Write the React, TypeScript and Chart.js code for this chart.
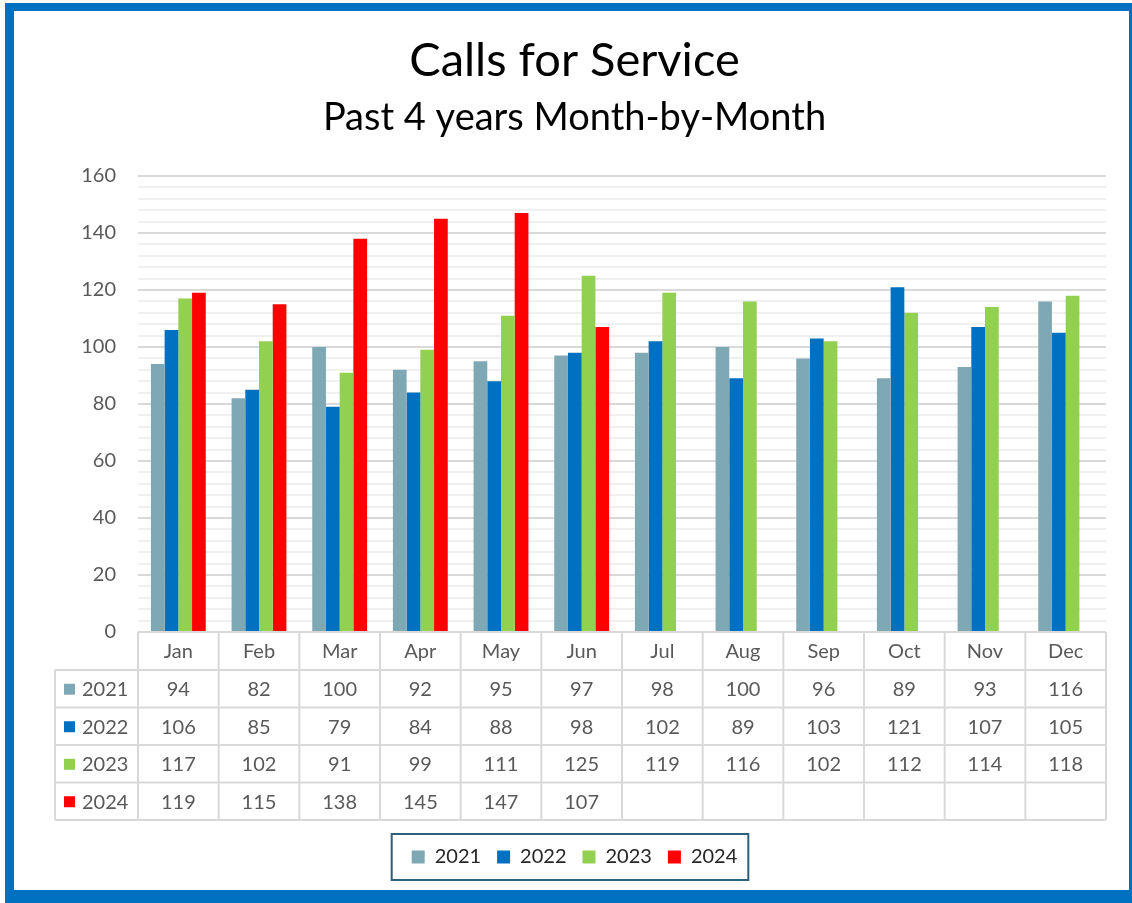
import React, { useEffect, useRef } from 'react';
import { Chart, registerables } from 'chart.js';

Chart.register(...registerables);

const months = ['Jan', 'Feb', 'Mar', 'Apr', 'May', 'Jun', 'Jul', 'Aug', 'Sep', 'Oct', 'Nov', 'Dec'];
const years = ['2021', '2022', '2023', '2024'];
const calls2021 = [94, 82, 100, 92, 95, 97, 98, 100, 96, 89, 93, 116];
const calls2022 = [106, 85, 79, 84, 88, 98, 102, 89, 103, 121, 107, 105];
const calls2023 = [117, 102, 91, 99, 111, 125, 119, 116, 102, 112, 114, 118];
const calls2024 = [119, 115, 138, 145, 147, 107, null, null, null, null, null, null];
const seriesColors = ['#7FA8B5', '#0070C0', '#92D050', '#FF0000'];
const yMin = 0;
const yMax = 160;
const yMinorStep = 4;
const yMajorStep = 20;

const allSeries = [calls2021, calls2022, calls2023, calls2024];

const FONT = 'Lato, "Open Sans", sans-serif';
const TEXT_GRAY = '#595959';
const TABLE_LINE = '#D9D9D9';

const framePlugin = {
  id: 'frame',
  beforeDraw(chart: any) {
    const { ctx, width, height } = chart;
    ctx.save();
    ctx.fillStyle = '#FFFFFF';
    ctx.fillRect(0, 0, width, height);
    ctx.fillStyle = '#0070C0';
    ctx.fillRect(5, 3, 9, height - 3);
    ctx.fillRect(5, 3, width - 5, 8);
    ctx.fillRect(1129, 3, width - 1129, height - 3);
    ctx.fillRect(5, 890, width - 5, height - 890);
    ctx.restore();
  },
};

const tablePlugin = {
  id: 'dataTable',
  afterDraw(chart: any) {
    const { ctx, chartArea, scales } = chart;
    const xs = scales.x;
    const n = months.length;
    const colW = (chartArea.right - chartArea.left) / n;
    const top = chartArea.bottom;
    const headerH = 38;
    const rowH = 37.5;
    const labelLeft = 55;
    const bottom = top + headerH + rowH * years.length;

    ctx.save();
    ctx.strokeStyle = TABLE_LINE;
    ctx.lineWidth = 2;
    const line = (x1: number, y1: number, x2: number, y2: number) => {
      ctx.beginPath();
      ctx.moveTo(x1, y1);
      ctx.lineTo(x2, y2);
      ctx.stroke();
    };
    for (let i = 0; i < n; i++) {
      const cx = xs.getPixelForValue(i);
      line(cx - colW / 2, top, cx - colW / 2, bottom);
    }
    line(chartArea.right, top, chartArea.right, bottom);
    line(labelLeft, top + headerH, labelLeft, bottom);
    line(chartArea.left, top, chartArea.right, top);
    for (let r = 0; r <= years.length; r++) {
      const y = top + headerH + r * rowH;
      line(labelLeft, y, chartArea.right, y);
    }

    ctx.font = `20px ${FONT}`;
    ctx.fillStyle = TEXT_GRAY;
    ctx.textBaseline = 'middle';
    allSeries.forEach((vals, r) => {
      const cy = top + headerH + r * rowH + rowH / 2;
      ctx.textAlign = 'center';
      ctx.fillStyle = TEXT_GRAY;
      vals.forEach((v, i) => {
        if (v !== null && v !== undefined) ctx.fillText(String(v), xs.getPixelForValue(i), cy + 1);
      });
      ctx.fillStyle = seriesColors[r];
      ctx.fillRect(64, cy - 5, 11, 11);
      ctx.fillStyle = TEXT_GRAY;
      ctx.textAlign = 'left';
      ctx.fillText(years[r], 82, cy + 1);
    });
    ctx.restore();
  },
};

const legendBoxPlugin = {
  id: 'legendBox',
  afterDraw(chart: any) {
    const lg = chart.legend;
    if (!lg || !lg.legendHitBoxes || !lg.legendHitBoxes.length) return;
    const hb = lg.legendHitBoxes;
    const left = Math.min(...hb.map((h: any) => h.left)) - 20;
    const right = Math.max(...hb.map((h: any) => h.left + h.width)) + 11;
    const cy = hb[0].top + hb[0].height / 2;
    const { ctx } = chart;
    ctx.save();
    ctx.strokeStyle = '#2F6079';
    ctx.lineWidth = 2;
    ctx.strokeRect(left, cy - 23, right - left, 46);
    ctx.restore();
  },
};

export default function App() {
  const canvasRef = useRef<HTMLCanvasElement | null>(null);

  useEffect(() => {
    if (!canvasRef.current) return;
    Chart.defaults.font.family = FONT;
    const chart = new Chart(canvasRef.current, {
      type: 'bar',
      data: {
        labels: months,
        datasets: years.map((y, i) => ({
          label: y,
          data: allSeries[i],
          backgroundColor: seriesColors[i],
          borderWidth: 0,
          barPercentage: 1,
          categoryPercentage: 0.68,
        })),
      },
      options: {
        responsive: false,
        animation: false,
        layout: { padding: { top: 0, left: 43, right: 26, bottom: 26 } },
        plugins: {
          title: {
            display: true,
            text: 'Calls for Service',
            color: '#000000',
            font: { size: 47, weight: 'normal', family: FONT, lineHeight: 1.2 },
            padding: { top: 33, bottom: 0 },
          },
          subtitle: {
            display: true,
            text: 'Past 4 years Month-by-Month',
            color: '#000000',
            font: { size: 38, weight: 'normal', family: FONT, lineHeight: 1.2 },
            padding: { top: 6, bottom: 35 },
          },
          legend: {
            position: 'bottom',
            labels: {
              boxWidth: 13,
              boxHeight: 13,
              padding: 16,
              color: '#262626',
              font: { size: 20, family: FONT },
            },
          },
          tooltip: { enabled: false },
        },
        scales: {
          x: {
            grid: { display: false, drawTicks: false },
            border: { display: false },
            ticks: { color: TEXT_GRAY, font: { size: 20, family: FONT }, padding: 8, maxRotation: 0 },
            afterFit(scale: any) {
              scale.height = 199;
            },
          },
          y: {
            min: yMin,
            max: yMax,
            grid: {
              drawTicks: false,
              lineWidth: 2,
              color: (c: any) =>
                c.tick && c.tick.value % yMajorStep === 0 ? '#D9D9D9' : '#F0F0F0',
            },
            border: { display: false },
            ticks: {
              stepSize: yMinorStep,
              autoSkip: false,
              padding: 22,
              color: TEXT_GRAY,
              font: { size: 20, family: FONT },
              callback: (v: any) => (Number(v) % yMajorStep === 0 ? String(v) : ''),
            },
            afterFit(scale: any) {
              scale.width = 95;
            },
          },
        },
      },
      plugins: [framePlugin, tablePlugin, legendBoxPlugin],
    } as any);
    return () => chart.destroy();
  }, []);

  return (
    <div style={{ position: 'absolute', left: 0, top: 0, width: 1132, height: 903, background: '#fff' }}>
      <canvas ref={canvasRef} width={1132} height={903} style={{ display: 'block', width: 1132, height: 903 }} />
    </div>
  );
}
